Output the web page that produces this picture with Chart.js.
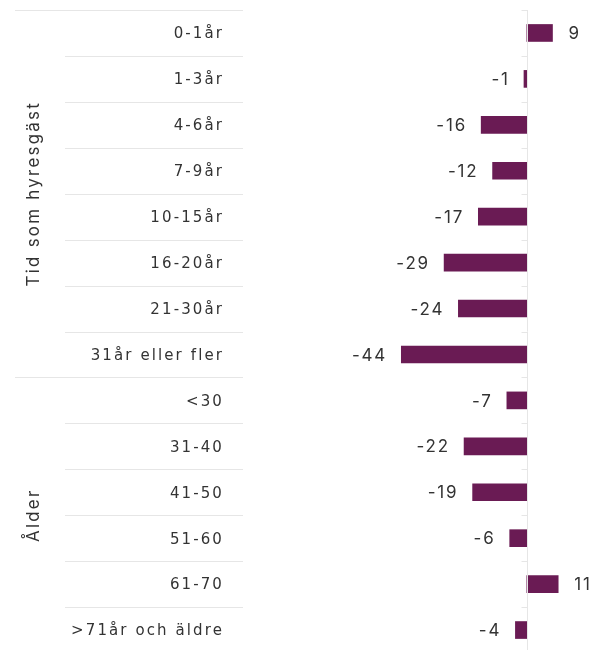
<!DOCTYPE html>
<html>
<head>
<meta charset="utf-8">
<script src="https://cdn.jsdelivr.net/npm/chart.js@4"></script>
<style>
  html, body { margin: 0; padding: 0; background: #fff; overflow: hidden; }
  #wrap { position: relative; width: 591px; height: 650px; overflow: hidden; }
  canvas { display: block; }
</style>
</head>
<body>
<div id="wrap"><canvas id="diff-chart" width="591" height="653"></canvas></div>
<script>
// Kategorier och värden (förändring)
const kategorier = [
    "0-1år", "1-3år", "4-6år", "7-9år", "10-15år", "16-20år", "21-30år", "31år eller fler",
    "<30", "31-40", "41-50", "51-60", "61-70", ">71år och äldre"
];
const varden = [9, -1, -16, -12, -17, -29, -24, -44, -7, -22, -19, -6, 11, -4];

// Grupper: namn, första och sista index i kategorier
const gruppNamn = ["Tid som hyresgäst", "Ålder"];
const gruppStart = [0, 8];
const gruppSlut = [7, 13];

const textFarg = "#333333";
const linjeFarg = "#e6e6e6";
const stapelFarg = "#6a1b54";

// Bokstavsavstånd för axeltexterna
const spacingPlugin = {
    id: "spacing",
    beforeDraw(chart) {
        chart.ctx.letterSpacing = "2.1px";
    }
};

// Ritar tabellinjer, grupptitlar, nollaxel och värdeetiketter
const tabellPlugin = {
    id: "tabell",
    afterDraw(chart) {
        const ctx = chart.ctx;
        const y = chart.scales.y;
        const x = chart.scales.x;
        const area = chart.chartArea;
        const halv = (y.getPixelForValue(1) - y.getPixelForValue(0)) / 2;
        const noll = Math.round(x.getPixelForValue(0)) + 0.5;

        ctx.save();
        ctx.lineWidth = 1;
        ctx.strokeStyle = linjeFarg;

        // horisontella linjer i etikettdelen
        for (let i = 0; i < kategorier.length; i++) {
            const py = Math.round(y.getPixelForValue(i) - halv) + 0.5;
            const arGrupp = gruppStart.includes(i);
            ctx.beginPath();
            ctx.moveTo(arGrupp ? 15 : 65, py);
            ctx.lineTo(area.left, py);
            ctx.stroke();

            // små streck vid nollaxeln
            ctx.beginPath();
            ctx.moveTo(noll - 6, py);
            ctx.lineTo(noll, py);
            ctx.stroke();
        }

        // nollaxel
        ctx.beginPath();
        ctx.moveTo(noll, area.top);
        ctx.lineTo(noll, area.bottom);
        ctx.stroke();

        // grupptitlar, roterade
        ctx.fillStyle = textFarg;
        ctx.letterSpacing = "2.2px";
        ctx.font = "17px Inter, sans-serif";
        ctx.textAlign = "center";
        ctx.textBaseline = "middle";
        gruppNamn.forEach((namn, g) => {
            const y0 = y.getPixelForValue(gruppStart[g]) - halv;
            const y1 = y.getPixelForValue(gruppSlut[g]) + halv;
            ctx.save();
            ctx.translate(34, (y0 + y1) / 2);
            ctx.rotate(-Math.PI / 2);
            ctx.fillText(namn, 0, 0);
            ctx.restore();
        });

        // värdeetiketter bredvid staplarna
        ctx.letterSpacing = "1.8px";
        ctx.font = "17px Inter, sans-serif";
        const meta = chart.getDatasetMeta(0);
        meta.data.forEach((bar, i) => {
            const v = varden[i];
            if (v >= 0) {
                ctx.textAlign = "left";
                ctx.fillText(String(v), bar.x + 16, bar.y + 1);
            } else {
                ctx.textAlign = "right";
                ctx.fillText(String(v), bar.x - 14.2, bar.y + 1);
            }
        });
        ctx.restore();
    }
};

const ctx = document.getElementById("diff-chart").getContext("2d");
new Chart(ctx, {
    type: "bar",
    data: {
        labels: kategorier,
        datasets: [{
            data: varden,
            backgroundColor: stapelFarg,
            borderWidth: 0,
            barThickness: 17
        }]
    },
    options: {
        indexAxis: "y",
        responsive: false,
        animation: false,
        layout: { padding: { top: 10, right: 0, bottom: 0, left: 0 } },
        plugins: {
            legend: { display: false },
            tooltip: { enabled: false }
        },
        scales: {
            x: {
                display: false,
                min: -99.5,
                max: 22.5
            },
            y: {
                afterFit(scale) {
                    scale.width = 243;
                    scale.paddingTop = 0;
                    scale.paddingBottom = 0;
                },
                grid: { display: false, drawTicks: false },
                border: { display: false },
                ticks: {
                    padding: 19,
                    labelOffset: 1.5,
                    color: textFarg,
                    font: { family: "'DejaVu Sans', sans-serif", size: 15 }
                }
            }
        }
    },
    plugins: [spacingPlugin, tabellPlugin]
});
</script>
</body>
</html>
